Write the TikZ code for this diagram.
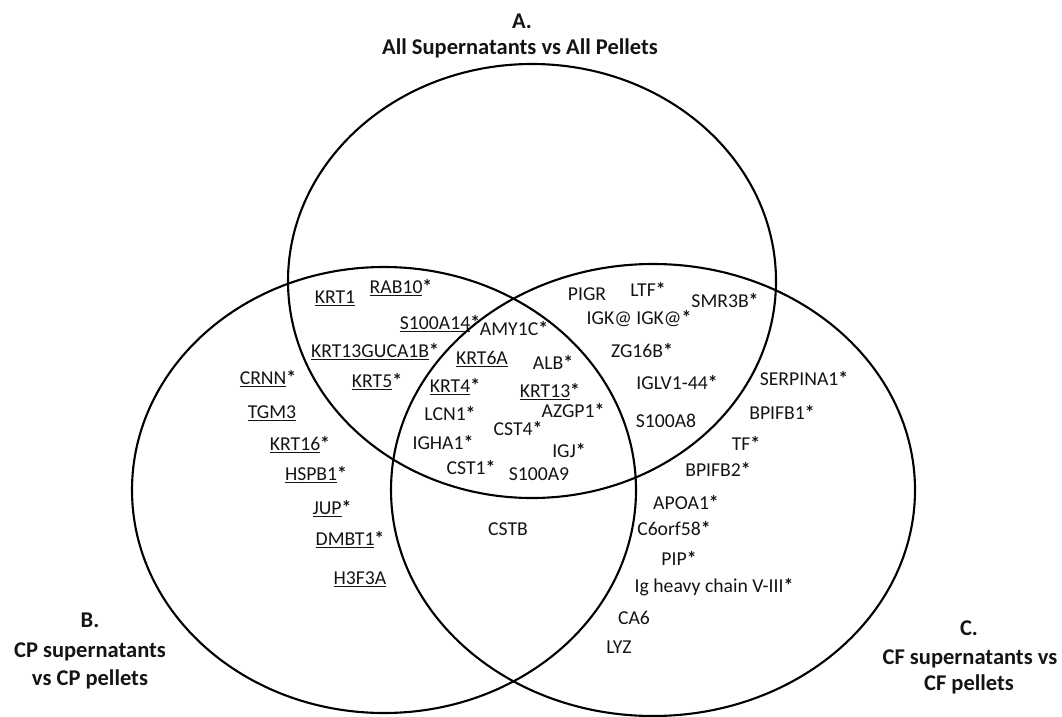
\documentclass[tikz,border=0pt]{standalone}
\usepackage{fontspec}
\setmainfont{Carlito}
\usepackage{xcolor}
\usepackage{tikz}
\usetikzlibrary{positioning}
\definecolor{RingBlack}{RGB}{0,0,0}
\definecolor{TextBlack}{RGB}{20,20,20}
\newcommand{\ugene}[1]{\underline{#1}}
\newcommand{\sig}{\textbf{*}}
\tikzset{
  %%── 集合圆 ─────────────────────────────────────────────
  ring/.style = {draw = RingBlack, line width = 1.5pt},
  %%── 基因标签（基线定位） ────────────────────────────────
  gene/.style = {
    anchor = base, inner sep = 0pt,
    font = \fontsize{14}{16}\selectfont, text = TextBlack
  },
  %%── 集合标题 ────────────────────────────────────────────
  ttl/.style = {
    anchor = base, inner sep = 0pt,
    font = \fontsize{16}{19}\selectfont\bfseries, text = TextBlack
  },
}

\begin{document}
\begin{tikzpicture}[x = 0.025cm, y = -0.025cm]
  \useasboundingbox (0,0) rectangle (1062,716);
  %% 三个集合
  \draw[ring] (532,281) ellipse [x radius = 244, y radius = 217];
  \draw[ring] (384,490) ellipse [x radius = 252, y radius = 223];
  \draw[ring] (653,490) ellipse [x radius = 262, y radius = 226];

  %% 标题
  \node[ttl] (tA1) at (522,29) {A.};
  \node[ttl] (tA2) at (520,55) {All Supernatants vs All Pellets};
  \node[ttl] (tB1) at (90,627) {B.};
  \node[ttl] (tB2) at (90,657) {CP supernatants};
  \node[ttl] (tB3) at (90,685) {vs CP pellets};
  \node[ttl] (tC1) at (969,635) {C.};
  \node[ttl] (tC2) at (970,664) {CF supernatants vs};
  \node[ttl] (tC3) at (969,690) {CF pellets};

  %% A ∩ B
  \node[gene] (gKRT1)   at (335,303) {\ugene{KRT1}};
  \node[gene] (gRAB10)  at (401,293) {\ugene{RAB10}\sig};
  \node[gene] (gS100A14) at (440,329) {\ugene{S100A14}\sig};
  \node[gene] (gKRT13G) at (375,357) {\ugene{KRT13GUCA1B}\sig};
  \node[gene] (gKRT5)   at (377,387) {\ugene{KRT5}\sig};

  %% A ∩ B ∩ C
  \node[gene] (gAMY1C)  at (514,335) {AMY1C\sig};
  \node[gene] (gKRT6A)  at (482,364) {\ugene{KRT6A}};
  \node[gene] (gALB)    at (553,369) {ALB\sig};
  \node[gene] (gKRT4)   at (455,392) {\ugene{KRT4}\sig};
  \node[gene] (gKRT13)  at (550,397) {\ugene{KRT13}\sig};
  \node[gene] (gLCN1)   at (450,420) {LCN1\sig};
  \node[gene] (gAZGP1)  at (573,417) {AZGP1\sig};
  \node[gene] (gCST4)   at (518,435) {CST4\sig};
  \node[gene] (gIGHA1)  at (443,449) {IGHA1\sig};
  \node[gene] (gIGJ)    at (569,457) {IGJ\sig};
  \node[gene] (gCST1)   at (471,474) {CST1\sig};
  \node[gene] (gS100A9) at (539,480) {S100A9};

  %% A ∩ C
  \node[gene] (gPIGR)   at (587,300) {PIGR};
  \node[gene] (gLTF)    at (648,296) {LTF\sig};
  \node[gene] (gSMR3B)  at (725,307) {SMR3B\sig};
  \node[gene] (gIGK)    at (639,324) {IGK@ IGK@\sig};
  \node[gene] (gZG16B)  at (642,357) {ZG16B\sig};
  \node[gene] (gIGLV)   at (677,389) {IGLV1-44\sig};
  \node[gene] (gS100A8) at (666,427) {S100A8};

  %% 仅 C
  \node[gene] (gSERP)   at (804,385) {SERPINA1\sig};
  \node[gene] (gBPIFB1) at (782,419) {BPIFB1\sig};
  \node[gene] (gTF)     at (746,450) {TF\sig};
  \node[gene] (gBPIFB2) at (718,476) {BPIFB2\sig};
  \node[gene] (gAPOA1)  at (686,509) {APOA1\sig};
  \node[gene] (gC6orf)  at (674,535) {C6orf58\sig};
  \node[gene] (gPIP)    at (679,565) {PIP\sig};
  \node[gene] (gIgH)    at (714,592) {Ig heavy chain V-III\sig};
  \node[gene] (gCA6)    at (634,624) {CA6};
  \node[gene] (gLYZ)    at (619,653) {LYZ};

  %% B ∩ C
  \node[gene] (gCSTB)   at (508,535) {CSTB};

  %% 仅 B
  \node[gene] (gCRNN)   at (268,384) {\ugene{CRNN}\sig};
  \node[gene] (gTGM3)   at (272,418) {\ugene{TGM3}};
  \node[gene] (gKRT16)  at (300,450) {\ugene{KRT16}\sig};
  \node[gene] (gHSPB1)  at (316,480) {\ugene{HSPB1}\sig};
  \node[gene] (gJUP)    at (332,514) {\ugene{JUP}\sig};
  \node[gene] (gDMBT1)  at (350,545) {\ugene{DMBT1}\sig};
  \node[gene] (gH3F3A)  at (360,584) {\ugene{H3F3A}};
\end{tikzpicture}
\end{document}
